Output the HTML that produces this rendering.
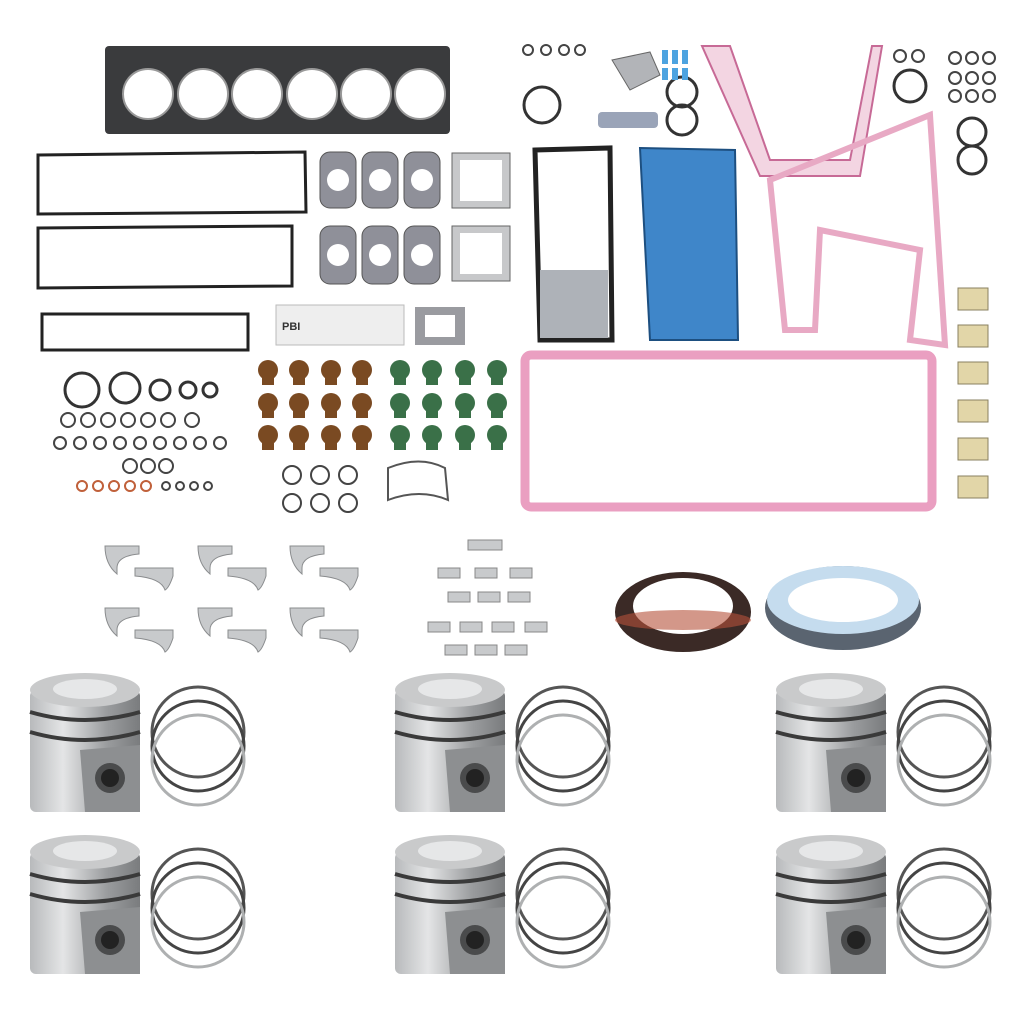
<!DOCTYPE html>
<html><head><meta charset="utf-8"><style>html,body{margin:0;padding:0;background:#fff}svg{display:block}</style></head>
<body>
<svg width="1024" height="1024" viewBox="0 0 1024 1024" xmlns="http://www.w3.org/2000/svg">
<defs>
 <linearGradient id="pg" x1="0" x2="1"><stop offset="0" stop-color="#b8babc"/><stop offset=".3" stop-color="#e4e5e6"/><stop offset=".7" stop-color="#9a9c9e"/><stop offset="1" stop-color="#7a7c7e"/></linearGradient>
 <g id="piston">
  <rect x="30" y="690" width="110" height="122" rx="6" fill="url(#pg)"/>
  <ellipse cx="85" cy="690" rx="55" ry="17" fill="#c9cacb"/>
  <ellipse cx="85" cy="689" rx="32" ry="10" fill="#e6e7e8"/>
  <path d="M30 712 Q85 728 140 712" stroke="#3a3a3a" stroke-width="4" fill="none"/>
  <path d="M30 732 Q85 748 140 732" stroke="#3a3a3a" stroke-width="4" fill="none"/>
  <path d="M80 750 L140 745 L140 812 L85 812 Z" fill="#8d8f91"/>
  <circle cx="110" cy="778" r="15" fill="#4a4b4c"/>
  <circle cx="110" cy="778" r="9" fill="#222"/>
  <g fill="none" stroke-width="3">
   <ellipse cx="198" cy="732" rx="46" ry="45" stroke="#555"/>
   <ellipse cx="198" cy="746" rx="46" ry="45" stroke="#444"/>
   <ellipse cx="198" cy="760" rx="46" ry="45" stroke="#aeb0b1"/>
  </g>
 </g>
 <g id="vseal"><circle r="10" cy="0"/><rect x="-6" y="6" width="12" height="9"/></g>
 <g id="brg" fill="#c8cacc" stroke="#8a8c8e" stroke-width="1"><path d="M0 0 h34 v8 q-22 2 -22 14 v6 q-12 -10 -12 -28 z"/><path d="M30 22 h38 v8 q-4 12 -8 14 q-4 -12 -30 -14 z"/></g>
</defs>

<rect x="105" y="46" width="345" height="88" rx="4" fill="#3a3b3d"/>
<g fill="#fff" stroke="#999" stroke-width="2">
 <circle cx="148" cy="94" r="25"/><circle cx="203" cy="94" r="25"/><circle cx="257" cy="94" r="25"/>
 <circle cx="312" cy="94" r="25"/><circle cx="366" cy="94" r="25"/><circle cx="420" cy="94" r="25"/>
</g>
<path d="M38 155 L305 152 L306 212 L38 214 Z" fill="none" stroke="#222" stroke-width="3"/>
<path d="M38 228 L292 226 L292 286 L38 288 Z" fill="none" stroke="#222" stroke-width="3"/>
<rect x="42" y="314" width="206" height="36" fill="none" stroke="#222" stroke-width="3"/>
<g fill="#8f9099" stroke="#555" stroke-width="1">
 <rect x="320" y="152" width="36" height="56" rx="10"/><rect x="362" y="152" width="36" height="56" rx="10"/><rect x="404" y="152" width="36" height="56" rx="10"/>
 <rect x="320" y="226" width="36" height="58" rx="10"/><rect x="362" y="226" width="36" height="58" rx="10"/><rect x="404" y="226" width="36" height="58" rx="10"/>
</g>
<g fill="#fff"><circle cx="338" cy="180" r="11"/><circle cx="380" cy="180" r="11"/><circle cx="422" cy="180" r="11"/><circle cx="338" cy="255" r="11"/><circle cx="380" cy="255" r="11"/><circle cx="422" cy="255" r="11"/></g>
<rect x="452" y="153" width="58" height="55" fill="#c7c8ca" stroke="#666"/><rect x="460" y="160" width="42" height="41" fill="#fff"/>
<rect x="452" y="226" width="58" height="55" fill="#c7c8ca" stroke="#666"/><rect x="460" y="233" width="42" height="41" fill="#fff"/>
<rect x="415" y="307" width="50" height="38" fill="#9a9ba0"/><rect x="425" y="315" width="30" height="22" fill="#fff"/>
<rect x="276" y="305" width="128" height="40" fill="#eee" stroke="#bbb"/>
<text x="282" y="330" font-family="Liberation Sans,sans-serif" font-size="11" font-weight="bold" fill="#333">PBI</text>
<path d="M535 150 L610 148 L612 340 L540 340 Z" fill="#fff" stroke="#222" stroke-width="5"/>
<rect x="540" y="270" width="68" height="68" fill="#aeb2b8"/>
<path d="M640 148 L735 150 L738 340 L650 340 Z" fill="#3f86c9" stroke="#1d4f80" stroke-width="2"/>
<path d="M702 46 L730 46 L770 160 L850 160 L872 46 L882 46 L860 176 L760 176 Z" fill="#f3d5e2" stroke="#c76a96" stroke-width="2"/>
<path d="M770 180 L930 115 L945 345 L910 340 L920 250 L820 230 L815 330 L785 330 Z" fill="none" stroke="#e8a9c4" stroke-width="6"/>
<rect x="525" y="355" width="407" height="152" fill="none" stroke="#ea9fc1" stroke-width="9" rx="6"/>
<g fill="none" stroke="#333" stroke-width="3">
 <circle cx="82" cy="390" r="17"/><circle cx="125" cy="388" r="15"/><circle cx="160" cy="390" r="10"/><circle cx="188" cy="390" r="8"/><circle cx="210" cy="390" r="7"/>
 <circle cx="542" cy="105" r="18"/><circle cx="682" cy="92" r="15"/><circle cx="682" cy="120" r="15"/><circle cx="910" cy="86" r="16"/>
 <circle cx="972" cy="132" r="14"/><circle cx="972" cy="160" r="14"/>
</g>
<g fill="none" stroke="#444" stroke-width="2">
 <circle cx="68" cy="420" r="7"/><circle cx="88" cy="420" r="7"/><circle cx="108" cy="420" r="7"/><circle cx="128" cy="420" r="7"/><circle cx="148" cy="420" r="7"/><circle cx="168" cy="420" r="7"/><circle cx="192" cy="420" r="7"/>
 <circle cx="60" cy="443" r="6"/><circle cx="80" cy="443" r="6"/><circle cx="100" cy="443" r="6"/><circle cx="120" cy="443" r="6"/><circle cx="140" cy="443" r="6"/><circle cx="160" cy="443" r="6"/><circle cx="180" cy="443" r="6"/><circle cx="200" cy="443" r="6"/><circle cx="220" cy="443" r="6"/>
 <circle cx="130" cy="466" r="7"/><circle cx="148" cy="466" r="7"/><circle cx="166" cy="466" r="7"/>
 <circle cx="82" cy="486" r="5" stroke="#c0603a"/><circle cx="98" cy="486" r="5" stroke="#c0603a"/><circle cx="114" cy="486" r="5" stroke="#c0603a"/><circle cx="130" cy="486" r="5" stroke="#c0603a"/><circle cx="146" cy="486" r="5" stroke="#c0603a"/><circle cx="166" cy="486" r="4"/><circle cx="180" cy="486" r="4"/><circle cx="194" cy="486" r="4"/><circle cx="208" cy="486" r="4"/>
 <circle cx="292" cy="475" r="9"/><circle cx="320" cy="475" r="9"/><circle cx="348" cy="475" r="9"/><circle cx="292" cy="503" r="9"/><circle cx="320" cy="503" r="9"/><circle cx="348" cy="503" r="9"/>
 <circle cx="528" cy="50" r="5"/><circle cx="546" cy="50" r="5"/><circle cx="564" cy="50" r="5"/><circle cx="580" cy="50" r="5"/>
 <circle cx="900" cy="56" r="6"/><circle cx="918" cy="56" r="6"/>
 <circle cx="955" cy="58" r="6"/><circle cx="972" cy="58" r="6"/><circle cx="989" cy="58" r="6"/><circle cx="955" cy="78" r="6"/><circle cx="972" cy="78" r="6"/><circle cx="989" cy="78" r="6"/><circle cx="955" cy="96" r="6"/><circle cx="972" cy="96" r="6"/><circle cx="989" cy="96" r="6"/>
</g>
<path d="M388 468 Q420 455 445 468 L448 500 Q420 488 388 500 Z" fill="none" stroke="#555" stroke-width="2"/>
<rect x="598" y="112" width="60" height="16" rx="4" fill="#9aa4b8"/>
<path d="M612 60 L650 52 L660 75 L630 90 Z" fill="#b2b4b8" stroke="#666"/>
<g fill="#4da3e0"><rect x="662" y="50" width="6" height="14"/><rect x="672" y="50" width="6" height="14"/><rect x="682" y="50" width="6" height="14"/><rect x="662" y="68" width="6" height="12"/><rect x="672" y="68" width="6" height="12"/><rect x="682" y="68" width="6" height="12"/></g>
<g fill="#7a4a22">
 <use href="#vseal" x="268" y="370"/><use href="#vseal" x="299" y="370"/><use href="#vseal" x="331" y="370"/><use href="#vseal" x="362" y="370"/>
 <use href="#vseal" x="268" y="403"/><use href="#vseal" x="299" y="403"/><use href="#vseal" x="331" y="403"/><use href="#vseal" x="362" y="403"/>
 <use href="#vseal" x="268" y="435"/><use href="#vseal" x="299" y="435"/><use href="#vseal" x="331" y="435"/><use href="#vseal" x="362" y="435"/>
</g>
<g fill="#3a7048">
 <use href="#vseal" x="400" y="370"/><use href="#vseal" x="432" y="370"/><use href="#vseal" x="465" y="370"/><use href="#vseal" x="497" y="370"/>
 <use href="#vseal" x="400" y="403"/><use href="#vseal" x="432" y="403"/><use href="#vseal" x="465" y="403"/><use href="#vseal" x="497" y="403"/>
 <use href="#vseal" x="400" y="435"/><use href="#vseal" x="432" y="435"/><use href="#vseal" x="465" y="435"/><use href="#vseal" x="497" y="435"/>
</g>
<g fill="#e2d6a8" stroke="#8a8060"><rect x="958" y="288" width="30" height="22"/><rect x="958" y="325" width="30" height="22"/><rect x="958" y="362" width="30" height="22"/><rect x="958" y="400" width="30" height="22"/><rect x="958" y="438" width="30" height="22"/><rect x="958" y="476" width="30" height="22"/></g>
<use href="#brg" x="105" y="546"/><use href="#brg" x="198" y="546"/><use href="#brg" x="290" y="546"/>
<use href="#brg" x="105" y="608"/><use href="#brg" x="198" y="608"/><use href="#brg" x="290" y="608"/>
<g fill="#c8cacc" stroke="#888">
 <rect x="468" y="540" width="34" height="10"/>
 <rect x="438" y="568" width="22" height="10"/><rect x="475" y="568" width="22" height="10"/><rect x="510" y="568" width="22" height="10"/>
 <rect x="448" y="592" width="22" height="10"/><rect x="478" y="592" width="22" height="10"/><rect x="508" y="592" width="22" height="10"/>
 <rect x="428" y="622" width="22" height="10"/><rect x="460" y="622" width="22" height="10"/><rect x="492" y="622" width="22" height="10"/><rect x="525" y="622" width="22" height="10"/>
 <rect x="445" y="645" width="22" height="10"/><rect x="475" y="645" width="22" height="10"/><rect x="505" y="645" width="22" height="10"/>
</g>
<ellipse cx="683" cy="612" rx="68" ry="40" fill="#3b2a26"/><ellipse cx="683" cy="606" rx="50" ry="28" fill="#fff"/><ellipse cx="683" cy="620" rx="68" ry="10" fill="#b5523a" opacity=".6"/>
<ellipse cx="843" cy="608" rx="78" ry="42" fill="#5a6470"/><ellipse cx="843" cy="600" rx="76" ry="34" fill="#c5dcee"/><ellipse cx="843" cy="600" rx="55" ry="22" fill="#fff"/>
<use href="#piston"/><use href="#piston" x="365"/><use href="#piston" x="746"/>
<use href="#piston" y="162"/><use href="#piston" x="365" y="162"/><use href="#piston" x="746" y="162"/>
</svg>
</body></html>
